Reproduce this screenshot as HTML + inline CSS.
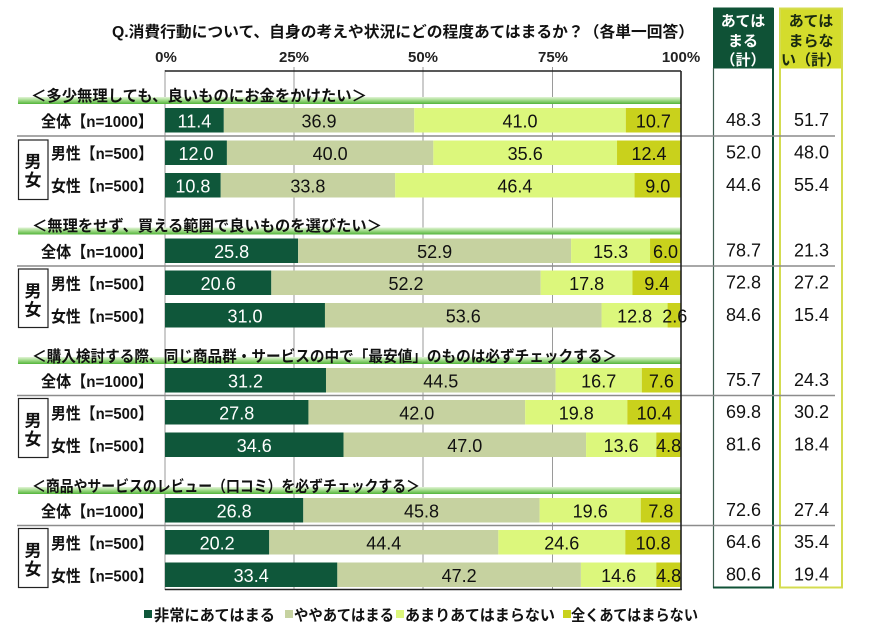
<!DOCTYPE html>
<html><head><meta charset="utf-8"><style>
html,body{margin:0;padding:0;background:#fff;}
svg{display:block;}
text{font-family:"Liberation Sans","Noto Sans CJK JP",sans-serif;}
.jp{font-family:"Liberation Sans","Noto Sans CJK JP",sans-serif;font-weight:bold;}
.bl{font-size:18px;text-anchor:middle;fill:#111;}
.bw{font-size:18px;text-anchor:middle;fill:#fff;}
.rv{font-size:18px;text-anchor:middle;fill:#111;}
.rl{font-size:16px;font-weight:bold;fill:#111;}
.hd{font-size:15.5px;font-weight:bold;fill:#111;}
.ax{font-size:15px;font-weight:bold;text-anchor:middle;fill:#222;}
</style></head><body>
<svg width="870" height="635" viewBox="0 0 870 635" xmlns="http://www.w3.org/2000/svg">
<defs>
<linearGradient id="band" x1="0" y1="0" x2="0" y2="1">
<stop offset="0" stop-color="#e2f4d6"/>
<stop offset="0.5" stop-color="#9cd884"/>
<stop offset="1" stop-color="#52b43a"/>
</linearGradient>
</defs>
<rect width="870" height="635" fill="#fff"/>

<!-- title -->
<text class="hd" x="112" y="37" textLength="582" lengthAdjust="spacingAndGlyphs">Q.消費行動について、自身の考えや状況にどの程度あてはまるか？（各単一回答）</text>

<!-- axis labels -->
<text class="ax" x="166" y="62">0%</text>
<text class="ax" x="294" y="62">25%</text>
<text class="ax" x="423" y="62">50%</text>
<text class="ax" x="553" y="62">75%</text>
<text class="ax" x="681" y="62">100%</text>

<!-- gridlines -->
<g stroke="#9a9a9a" stroke-width="1">
<line x1="294" y1="67" x2="294" y2="590"/>
<line x1="423" y1="67" x2="423" y2="590"/>
<line x1="552.5" y1="67" x2="552.5" y2="590"/>
<line x1="165" y1="70" x2="165" y2="590"/>
</g>
<line x1="165" y1="71" x2="681" y2="71" stroke="#222" stroke-width="1.6"/>

<!-- right boxes -->
<rect x="713" y="7.5" width="60.5" height="61" fill="#0f5236"/>
<rect x="779" y="7.5" width="63" height="61" fill="#d4dc2c"/>
<line x1="713.5" y1="68" x2="713.5" y2="588" stroke="#3e5e50" stroke-width="1.2"/>
<line x1="773" y1="8" x2="773" y2="588" stroke="#0f5236" stroke-width="2"/>
<line x1="713" y1="587.5" x2="774" y2="587.5" stroke="#0f5236" stroke-width="2"/>
<rect x="780" y="8.5" width="62" height="579" fill="none" stroke="#d4dc50" stroke-width="2"/>
<g class="jp" font-size="15" text-anchor="middle">
<text x="743" y="26" fill="#fff">あては</text>
<text x="743" y="46" fill="#fff">まる</text>
<text x="743" y="65" fill="#fff">（計）</text>
<text x="811" y="26" fill="#1a2a10">あては</text>
<text x="811" y="46" fill="#1a2a10">まらな</text>
<text x="811" y="65" fill="#1a2a10">い（計）</text>
</g>

<!-- section bands -->
<rect x="18" y="97" width="663" height="7" fill="url(#band)"/>
<rect x="18" y="227.5" width="663" height="7" fill="url(#band)"/>
<rect x="18" y="357" width="663" height="7" fill="url(#band)"/>
<rect x="18" y="487" width="663" height="7" fill="url(#band)"/>

<!-- section headers -->
<text class="hd" x="31" y="101" textLength="336" lengthAdjust="spacingAndGlyphs">＜多少無理しても、良いものにお金をかけたい＞</text>
<text class="hd" x="32" y="231" textLength="350" lengthAdjust="spacingAndGlyphs">＜無理をせず、買える範囲で良いものを選びたい＞</text>
<text class="hd" x="32" y="361.5" textLength="585" lengthAdjust="spacingAndGlyphs">＜購入検討する際、同じ商品群・サービスの中で「最安値」のものは必ずチェックする＞</text>
<text class="hd" x="32" y="491.5" textLength="388" lengthAdjust="spacingAndGlyphs">＜商品やサービスのレビュー（口コミ）を必ずチェックする＞</text>

<!-- separator lines -->
<g stroke="#8c8c8c" stroke-width="1.5">
<line x1="17" y1="136" x2="835" y2="136"/>
<line x1="17" y1="266" x2="835" y2="266"/>
<line x1="17" y1="395.5" x2="835" y2="395.5"/>
<line x1="17" y1="525.5" x2="835" y2="525.5"/>
</g>

<!-- 男女 boxes -->
<g fill="none" stroke="#222" stroke-width="1.2">
<rect x="18.5" y="140" width="29.5" height="59.5"/>
<rect x="18.5" y="269" width="29.5" height="58.5"/>
<rect x="18.5" y="398.5" width="29.5" height="59"/>
<rect x="18.5" y="528.5" width="29.5" height="59"/>
</g>
<g class="jp" font-size="17" text-anchor="middle" fill="#111">
<text x="33" y="167.5">男</text><text x="33" y="186">女</text>
<text x="33" y="297">男</text><text x="33" y="315.5">女</text>
<text x="33" y="426.5">男</text><text x="33" y="445">女</text>
<text x="33" y="556.5">男</text><text x="33" y="575">女</text>
</g>

<!-- row labels -->
<g class="rl">
<text x="41" y="127" textLength="112" lengthAdjust="spacingAndGlyphs">全体【n=1000】</text>
<text x="51" y="159" textLength="102" lengthAdjust="spacingAndGlyphs">男性【n=500】</text>
<text x="51" y="191.5" textLength="102" lengthAdjust="spacingAndGlyphs">女性【n=500】</text>
<text x="41" y="257.5" textLength="112" lengthAdjust="spacingAndGlyphs">全体【n=1000】</text>
<text x="51" y="289.5" textLength="102" lengthAdjust="spacingAndGlyphs">男性【n=500】</text>
<text x="51" y="322" textLength="102" lengthAdjust="spacingAndGlyphs">女性【n=500】</text>
<text x="41" y="387" textLength="112" lengthAdjust="spacingAndGlyphs">全体【n=1000】</text>
<text x="51" y="419" textLength="102" lengthAdjust="spacingAndGlyphs">男性【n=500】</text>
<text x="51" y="451.5" textLength="102" lengthAdjust="spacingAndGlyphs">女性【n=500】</text>
<text x="41" y="517" textLength="112" lengthAdjust="spacingAndGlyphs">全体【n=1000】</text>
<text x="51" y="549" textLength="102" lengthAdjust="spacingAndGlyphs">男性【n=500】</text>
<text x="51" y="581.5" textLength="102" lengthAdjust="spacingAndGlyphs">女性【n=500】</text>
</g>

<!-- bars -->
<g>
<!-- s1 -->
<rect x="165" y="108" width="58.82" height="24.5" fill="#0f573a"/>
<rect x="223.82" y="108" width="190.41" height="24.5" fill="#c6d2a0"/>
<rect x="414.23" y="108" width="211.56" height="24.5" fill="#dcf77c"/>
<rect x="625.79" y="108" width="55.21" height="24.5" fill="#c9d11c"/>
<rect x="165" y="140.5" width="61.92" height="24.5" fill="#0f573a"/>
<rect x="226.92" y="140.5" width="206.4" height="24.5" fill="#c6d2a0"/>
<rect x="433.32" y="140.5" width="183.7" height="24.5" fill="#dcf77c"/>
<rect x="617.02" y="140.5" width="63.98" height="24.5" fill="#c9d11c"/>
<rect x="165" y="173" width="55.73" height="24.5" fill="#0f573a"/>
<rect x="220.73" y="173" width="174.41" height="24.5" fill="#c6d2a0"/>
<rect x="395.14" y="173" width="239.42" height="24.5" fill="#dcf77c"/>
<rect x="634.56" y="173" width="46.44" height="24.5" fill="#c9d11c"/>
<!-- s2 -->
<rect x="165" y="238.5" width="133.13" height="24.5" fill="#0f573a"/>
<rect x="298.13" y="238.5" width="272.96" height="24.5" fill="#c6d2a0"/>
<rect x="571.09" y="238.5" width="78.95" height="24.5" fill="#dcf77c"/>
<rect x="650.04" y="238.5" width="30.96" height="24.5" fill="#c9d11c"/>
<rect x="165" y="270.5" width="106.3" height="24.5" fill="#0f573a"/>
<rect x="271.3" y="270.5" width="269.35" height="24.5" fill="#c6d2a0"/>
<rect x="540.65" y="270.5" width="91.85" height="24.5" fill="#dcf77c"/>
<rect x="632.5" y="270.5" width="48.5" height="24.5" fill="#c9d11c"/>
<rect x="165" y="303" width="159.96" height="24.5" fill="#0f573a"/>
<rect x="324.96" y="303" width="276.58" height="24.5" fill="#c6d2a0"/>
<rect x="601.54" y="303" width="66.04" height="24.5" fill="#dcf77c"/>
<rect x="667.58" y="303" width="13.42" height="24.5" fill="#c9d11c"/>
<!-- s3 -->
<rect x="165" y="368" width="160.99" height="24.5" fill="#0f573a"/>
<rect x="325.99" y="368" width="229.62" height="24.5" fill="#c6d2a0"/>
<rect x="555.61" y="368" width="86.17" height="24.5" fill="#dcf77c"/>
<rect x="641.78" y="368" width="39.22" height="24.5" fill="#c9d11c"/>
<rect x="165" y="400" width="143.45" height="24.5" fill="#0f573a"/>
<rect x="308.45" y="400" width="216.72" height="24.5" fill="#c6d2a0"/>
<rect x="525.17" y="400" width="102.17" height="24.5" fill="#dcf77c"/>
<rect x="627.34" y="400" width="53.66" height="24.5" fill="#c9d11c"/>
<rect x="165" y="432.5" width="178.54" height="24.5" fill="#0f573a"/>
<rect x="343.54" y="432.5" width="242.52" height="24.5" fill="#c6d2a0"/>
<rect x="586.06" y="432.5" width="70.17" height="24.5" fill="#dcf77c"/>
<rect x="656.23" y="432.5" width="24.77" height="24.5" fill="#c9d11c"/>
<!-- s4 -->
<rect x="165" y="498" width="138.29" height="24.5" fill="#0f573a"/>
<rect x="303.29" y="498" width="236.33" height="24.5" fill="#c6d2a0"/>
<rect x="539.62" y="498" width="101.13" height="24.5" fill="#dcf77c"/>
<rect x="640.75" y="498" width="40.25" height="24.5" fill="#c9d11c"/>
<rect x="165" y="530" width="104.23" height="24.5" fill="#0f573a"/>
<rect x="269.23" y="530" width="229.11" height="24.5" fill="#c6d2a0"/>
<rect x="498.34" y="530" width="126.93" height="24.5" fill="#dcf77c"/>
<rect x="625.27" y="530" width="55.73" height="24.5" fill="#c9d11c"/>
<rect x="165" y="562.5" width="172.34" height="24.5" fill="#0f573a"/>
<rect x="337.34" y="562.5" width="243.56" height="24.5" fill="#c6d2a0"/>
<rect x="580.9" y="562.5" width="75.33" height="24.5" fill="#dcf77c"/>
<rect x="656.23" y="562.5" width="24.77" height="24.5" fill="#c9d11c"/>
</g>

<!-- right & bottom border of plot -->
<line x1="681" y1="71" x2="681" y2="590" stroke="#222" stroke-width="1.6"/>
<line x1="165" y1="589.5" x2="681.8" y2="589.5" stroke="#222" stroke-width="1.6"/>

<!-- bar labels -->
<g>
<text class="bw" x="194.4" y="127.5">11.4</text><text class="bl" x="319" y="127.5">36.9</text><text class="bl" x="520" y="127.5">41.0</text><text class="bl" x="653.4" y="127.5">10.7</text>
<text class="bw" x="196" y="160">12.0</text><text class="bl" x="330.1" y="160">40.0</text><text class="bl" x="525.2" y="160">35.6</text><text class="bl" x="649" y="160">12.4</text>
<text class="bw" x="192.9" y="192.5">10.8</text><text class="bl" x="307.9" y="192.5">33.8</text><text class="bl" x="514.9" y="192.5">46.4</text><text class="bl" x="657.8" y="192.5">9.0</text>

<text class="bw" x="231.6" y="258">25.8</text><text class="bl" x="434.6" y="258">52.9</text><text class="bl" x="610.6" y="258">15.3</text><text class="bl" x="665.5" y="258">6.0</text>
<text class="bw" x="218.2" y="290">20.6</text><text class="bl" x="406" y="290">52.2</text><text class="bl" x="586.6" y="290">17.8</text><text class="bl" x="656.8" y="290">9.4</text>
<text class="bw" x="245" y="322.5">31.0</text><text class="bl" x="463.3" y="322.5">53.6</text><text class="bl" x="634.6" y="322.5">12.8</text><text class="bl" x="674.8" y="322.5">2.6</text>

<text class="bw" x="245.5" y="387.5">31.2</text><text class="bl" x="440.8" y="387.5">44.5</text><text class="bl" x="598.7" y="387.5">16.7</text><text class="bl" x="661.4" y="387.5">7.6</text>
<text class="bw" x="236.7" y="419.5">27.8</text><text class="bl" x="416.8" y="419.5">42.0</text><text class="bl" x="576.3" y="419.5">19.8</text><text class="bl" x="654.2" y="419.5">10.4</text>
<text class="bw" x="254.3" y="452">34.6</text><text class="bl" x="464.8" y="452">47.0</text><text class="bl" x="621.1" y="452">13.6</text><text class="bl" x="668.6" y="452">4.8</text>

<text class="bw" x="234.1" y="517.5">26.8</text><text class="bl" x="421.5" y="517.5">45.8</text><text class="bl" x="590.2" y="517.5">19.6</text><text class="bl" x="660.9" y="517.5">7.8</text>
<text class="bw" x="217.1" y="549.5">20.2</text><text class="bl" x="383.8" y="549.5">44.4</text><text class="bl" x="561.8" y="549.5">24.6</text><text class="bl" x="653.1" y="549.5">10.8</text>
<text class="bw" x="251.2" y="582">33.4</text><text class="bl" x="459.1" y="582">47.2</text><text class="bl" x="618.6" y="582">14.6</text><text class="bl" x="668.6" y="582">4.8</text>
</g>

<!-- right column values -->
<g class="rv">
<text x="743.5" y="126">48.3</text><text x="811.5" y="126">51.7</text>
<text x="743.5" y="158.5">52.0</text><text x="811.5" y="158.5">48.0</text>
<text x="743.5" y="191">44.6</text><text x="811.5" y="191">55.4</text>
<text x="743.5" y="256.5">78.7</text><text x="811.5" y="256.5">21.3</text>
<text x="743.5" y="288.5">72.8</text><text x="811.5" y="288.5">27.2</text>
<text x="743.5" y="321">84.6</text><text x="811.5" y="321">15.4</text>
<text x="743.5" y="386">75.7</text><text x="811.5" y="386">24.3</text>
<text x="743.5" y="418">69.8</text><text x="811.5" y="418">30.2</text>
<text x="743.5" y="450.5">81.6</text><text x="811.5" y="450.5">18.4</text>
<text x="743.5" y="516">72.6</text><text x="811.5" y="516">27.4</text>
<text x="743.5" y="548">64.6</text><text x="811.5" y="548">35.4</text>
<text x="743.5" y="580.5">80.6</text><text x="811.5" y="580.5">19.4</text>
</g>

<!-- legend -->
<rect x="144" y="610" width="8" height="8" fill="#0f573a"/>
<text class="hd" x="154" y="620.5" textLength="121" lengthAdjust="spacingAndGlyphs">非常にあてはまる</text>
<rect x="285" y="610" width="8" height="8" fill="#c6d2a0"/>
<text class="hd" x="294" y="620.5" textLength="100" lengthAdjust="spacingAndGlyphs">ややあてはまる</text>
<rect x="396" y="610" width="8" height="8" fill="#dcf77c"/>
<text class="hd" x="405" y="620.5" textLength="150" lengthAdjust="spacingAndGlyphs">あまりあてはまらない</text>
<rect x="563" y="610" width="8" height="8" fill="#c9d11c"/>
<text class="hd" x="571" y="620.5" textLength="127" lengthAdjust="spacingAndGlyphs">全くあてはまらない</text>
</svg>
</body></html>
